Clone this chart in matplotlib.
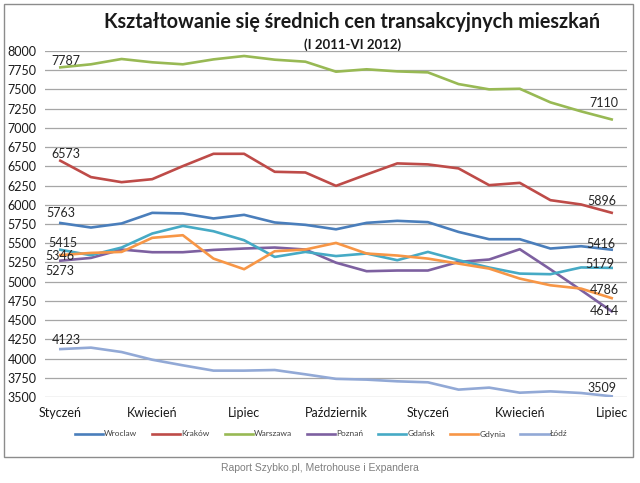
import matplotlib
matplotlib.use("Agg")
import matplotlib.pyplot as plt
from matplotlib.patches import Rectangle

plt.rcParams['font.family'] = ['Lato', 'DejaVu Sans']

months = list(range(19))
tick_pos = [0, 3, 6, 9, 12, 15, 18]
tick_labels = ["Styczeń", "Kwiecień", "Lipiec", "Październik", "Styczeń", "Kwiecień", "Lipiec"]

wroclaw = [5763, 5704, 5757, 5895, 5887, 5822, 5869, 5770, 5739, 5681, 5765, 5791, 5774, 5647, 5552, 5552, 5431, 5461, 5416]
krakow = [6573, 6360, 6294, 6333, 6503, 6663, 6663, 6429, 6420, 6246, 6394, 6538, 6525, 6473, 6255, 6285, 6060, 6004, 5896]
warszawa = [7787, 7827, 7896, 7853, 7827, 7891, 7935, 7887, 7861, 7731, 7762, 7735, 7722, 7570, 7501, 7509, 7332, 7215, 7110]
poznan = [5273, 5309, 5418, 5383, 5383, 5413, 5431, 5444, 5418, 5247, 5136, 5145, 5145, 5257, 5288, 5422, 5160, 4890, 4614]
gdansk = [5415, 5344, 5444, 5626, 5725, 5656, 5539, 5322, 5387, 5333, 5366, 5279, 5387, 5279, 5184, 5105, 5097, 5185, 5179]
gdynia = [5346, 5374, 5387, 5570, 5604, 5300, 5162, 5396, 5418, 5504, 5366, 5340, 5300, 5235, 5170, 5040, 4953, 4910, 4786]
lodz = [4123, 4142, 4085, 3985, 3912, 3843, 3843, 3851, 3795, 3736, 3726, 3704, 3691, 3596, 3622, 3556, 3573, 3552, 3509]

names = ["Wroclaw", "Kraków", "Warszawa", "Poznań", "Gdańsk", "Gdynia", "Łódź"]
series = [wroclaw, krakow, warszawa, poznan, gdansk, gdynia, lodz]
colors = ["#4a7ebb", "#be4b48", "#98b954", "#7d60a0", "#46aac5", "#f79646", "#92a9d6"]

yticks = list(range(3500, 8001, 250))

fig = plt.figure(figsize=(6.4, 4.83), dpi=100)
fig.patches.append(Rectangle((4/640, 1-457/483), 629/640, 453/483, transform=fig.transFigure,
                             fill=False, edgecolor="#8c8c8c", linewidth=1.0))
ax = fig.add_axes([45/640, 1-397/483, 582/640, 346/483])

for name, vals, c in zip(names, series, colors):
    ax.plot(months, vals, color=c, linewidth=1.9, label=name, solid_joinstyle='round')

ax.set_xlim(-0.5, 18.5)
ax.set_ylim(3500, 8000)
ax.set_yticks(yticks)
ax.set_yticklabels([str(v) for v in yticks])
ax.set_xticks(tick_pos)
ax.set_xticklabels(tick_labels)
ax.tick_params(axis='both', length=0, labelsize=9, colors="#1a1a1a")
ax.tick_params(axis='y', pad=6)
ax.tick_params(axis='x', pad=7)
ax.grid(axis='y', color="#a6a6a6", linewidth=0.9)
ax.set_axisbelow(True)
for s in ax.spines.values():
    s.set_visible(False)

start_offsets = [(1, 10), (6, 7), (6, 6), (0, -10), (3, 7), (0, -1), (6, 9)]
end_offsets = [(-11, 6), (-10, 12), (-8, 16), (-7, 0), (-12, 4), (-7, 8), (-10, 8)]
for vals, so, eo in zip(series, start_offsets, end_offsets):
    ax.annotate(str(vals[0]), (0, vals[0]), xytext=so, textcoords='offset pixels',
                ha='center', va='center', fontsize=9, color="#262626")
    ax.annotate(str(vals[-1]), (18, vals[-1]), xytext=eo, textcoords='offset pixels',
                ha='center', va='center', fontsize=9, color="#262626")

fig.text(352/640, 1-22/483, "Kształtowanie się średnich cen transakcyjnych mieszkań",
         ha='center', va='center', fontsize=14.2, fontweight='bold', color="#1a1a1a")
fig.text(353/640, 1-45/483, "(I 2011-VI 2012)", ha='center', va='center',
         fontsize=9.5, fontweight='bold', color="#1a1a1a")

leg = fig.legend(loc='center', bbox_to_anchor=(321/640, 1-434/483), ncol=7, frameon=False,
                 fontsize=6, handlelength=3.4, handletextpad=0.15, columnspacing=1.75,
                 labelcolor="#404040")

fig.text(320/640, 1-468/483, "Raport Szybko.pl, Metrohouse i Expandera", ha='center', va='center',
         fontsize=7.5, color="#7f7f7f", family=['Liberation Sans', 'DejaVu Sans'])

fig.savefig("out.png", dpi=100)
